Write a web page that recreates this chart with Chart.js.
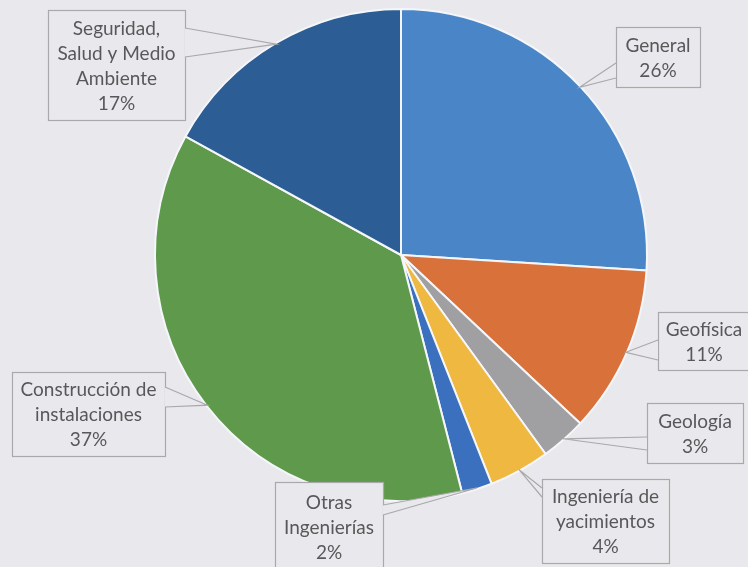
<!DOCTYPE html>
<html>
<head>
<meta charset="utf-8">
<script src="https://cdn.jsdelivr.net/npm/chart.js@4"></script>
<style>
  html, body { margin: 0; padding: 0; background: #e9e9ed; }
  #wrap { width: 748px; height: 567px; position: relative; }
</style>
</head>
<body>
<div id="wrap"><canvas id="pieChart" width="748" height="567"></canvas></div>
<script>
// Datos del gráfico
const categorias = ['General', 'Geofísica', 'Geología', 'Ingeniería de yacimientos',
    'Otras Ingenierías', 'Construcción de instalaciones', 'Seguridad, Salud y Medio Ambiente'];
const porcentajes = [26, 11, 3, 4, 2, 37, 17];
const colores = ['#4a86c7', '#d9713b', '#a0a0a2', '#efb840', '#3a70bd', '#5f994b', '#2c5d94'];

// Texto de las etiquetas (líneas)
const textosEtiquetas = [
    ['General', '26%'],
    ['Geofísica', '11%'],
    ['Geología', '3%'],
    ['Ingeniería de', 'yacimientos', '4%'],
    ['Otras', 'Ingenierías', '2%'],
    ['Construcción de', 'instalaciones', '37%'],
    ['Seguridad,', 'Salud y Medio', 'Ambiente', '17%']
];

// Posición de cada recuadro: x, y, ancho, alto, lado del conector y sus dos puntos base
const cajas = [
    { x: 616, y: 27, w: 84, h: 60, lado: 'left', b1: 36, b2: 51 },
    { x: 658, y: 312, w: 92, h: 58, lado: 'left', b1: 28, b2: 48 },
    { x: 647, y: 403, w: 96, h: 60, lado: 'left', b1: 34, b2: 47 },
    { x: 542, y: 479, w: 127, h: 84, lado: 'left', b1: 9, b2: 18 },
    { x: 275, y: 482, w: 108, h: 90, lado: 'right', b1: 23, b2: 33 },
    { x: 12, y: 372, w: 153, h: 84, lado: 'right', b1: 15, b2: 35 },
    { x: 48, y: 10, w: 137, h: 110, lado: 'right', b1: 18, b2: 47 }
];

const fondo = '#e9e9ed';

// Plugin para dibujar los recuadros con su conector
const etiquetasPlugin = {
    id: 'etiquetas',
    afterDraw(chart) {
        const ctx = chart.ctx;
        const arcs = chart.getDatasetMeta(0).data;
        ctx.save();
        arcs.forEach((arc, i) => {
            const c = cajas[i];
            const mid = (arc.startAngle + arc.endAngle) / 2;
            const tx = arc.x + Math.cos(mid) * (arc.outerRadius - 1);
            const ty = arc.y + Math.sin(mid) * (arc.outerRadius - 1);
            let p1, p2;
            if (c.lado === 'left') {
                p1 = [c.x, c.y + c.b1]; p2 = [c.x, c.y + c.b2];
            } else {
                p1 = [c.x + c.w, c.y + c.b1]; p2 = [c.x + c.w, c.y + c.b2];
            }
            // recuadro
            ctx.fillStyle = fondo;
            ctx.strokeStyle = '#a9a9ab';
            ctx.lineWidth = 1.2;
            ctx.fillRect(c.x, c.y, c.w, c.h);
            ctx.strokeRect(c.x + 0.5, c.y + 0.5, c.w, c.h);
            // conector
            ctx.beginPath();
            ctx.moveTo(p1[0], p1[1]);
            ctx.lineTo(tx, ty);
            ctx.lineTo(p2[0], p2[1]);
            ctx.closePath();
            ctx.fill();
            ctx.beginPath();
            ctx.moveTo(p1[0], p1[1]);
            ctx.lineTo(tx, ty);
            ctx.lineTo(p2[0], p2[1]);
            ctx.stroke();
            // texto
            const lineas = textosEtiquetas[i];
            const alto = 25;
            ctx.fillStyle = '#58585a';
            ctx.font = '19px Lato';
            ctx.textAlign = 'center';
            ctx.textBaseline = 'middle';
            const y0 = c.y + c.h / 2 - (lineas.length - 1) * alto / 2;
            lineas.forEach((t, k) => ctx.fillText(t, c.x + c.w / 2, y0 + k * alto + 1));
        });
        ctx.restore();
    }
};

const ctx = document.getElementById('pieChart').getContext('2d');
new Chart(ctx, {
    type: 'pie',
    data: {
        labels: categorias,
        datasets: [{
            data: porcentajes,
            backgroundColor: colores,
            borderColor: '#f4f6fa',
            borderWidth: 2
        }]
    },
    options: {
        responsive: false,
        animation: false,
        layout: { padding: { left: 154, right: 100, top: 8, bottom: 65 } },
        plugins: {
            legend: { display: false },
            tooltip: { enabled: false }
        }
    },
    plugins: [etiquetasPlugin]
});
</script>
</body>
</html>
